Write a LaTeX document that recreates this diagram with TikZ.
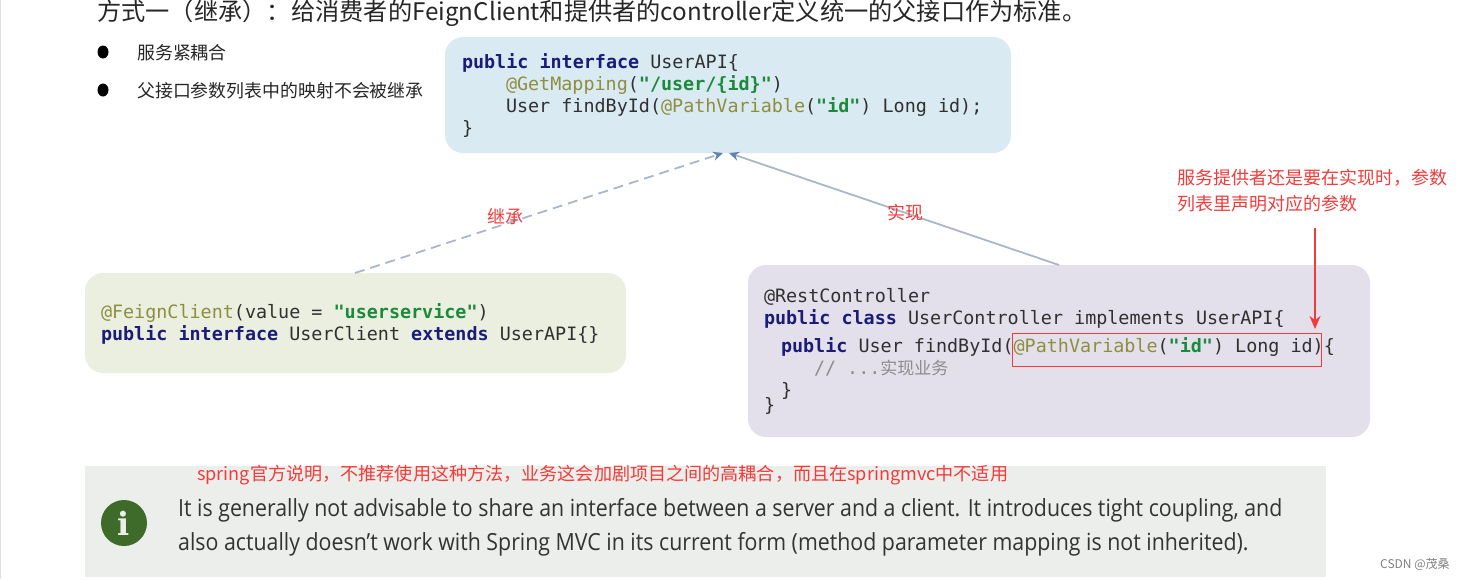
\documentclass[tikz,border=0pt]{standalone}
\usepackage{fontspec}
\setmainfont{Noto Sans CJK SC}
\setmonofont{DejaVu Sans Mono}
\newfontfamily\cjkf{Noto Sans CJK SC}
\newfontfamily\notef{Open Sans}
\newfontfamily\iconf{DejaVu Serif}
\usetikzlibrary{arrows.meta,shapes.geometric}
\definecolor{bluebox}{HTML}{D9EAF3}
\definecolor{greenbox}{HTML}{EAEFE0}
\definecolor{purplebox}{HTML}{E3E0EC}
\definecolor{notebox}{HTML}{EBEEEA}
\definecolor{iconc}{HTML}{3F6B2A}
\definecolor{redc}{HTML}{F23B3B}
\definecolor{kw}{HTML}{1C1C78}
\definecolor{ann}{HTML}{8E8E3E}
\definecolor{strc}{HTML}{1B8A3A}
\definecolor{codec}{HTML}{303030}
\definecolor{arrowc}{HTML}{A9B7C8}
\definecolor{tipc}{HTML}{5D83AE}
\newcommand{\K}[1]{\textcolor{kw}{\bfseries #1}}
\newcommand{\A}[1]{\textcolor{ann}{#1}}
\newcommand{\St}[1]{\textcolor{strc}{\bfseries #1}}
\tikzset{
  panel/.style={rounded corners=18pt,inner sep=0pt,outer sep=0pt,anchor=north west},
  code/.style={anchor=base west,inner sep=0pt,outer sep=0pt,text=codec,font=\ttfamily\fontsize{18.4}{20}\selectfont},
  redt/.style={anchor=base west,inner sep=0pt,text=redc,font=\cjkf\fontsize{18}{20}\selectfont},
  blackt/.style={anchor=base west,inner sep=0pt,text=black!85,font=\cjkf\fontsize{17.9}{20}\selectfont},
  notet/.style={anchor=base west,inner sep=0pt,text=black!80,font=\notef\fontsize{23.6}{26}\selectfont},
  link/.style={draw=arrowc,line width=1.8pt},
  tip/.style={-{Stealth[length=10pt,width=9pt,color=tipc]}},
  bulletdot/.style={ellipse,fill=black,minimum width=11pt,minimum height=13pt,inner sep=0pt},
}
\begin{document}
\begin{tikzpicture}[x=1pt,y=-1pt]
\useasboundingbox (0,0) rectangle (1463,579);
\draw[black!12,line width=1pt] (0.5,0) -- (0.5,579);
\node[panel,fill=bluebox,minimum width=566pt,minimum height=116pt] (api) at (445,37) {};
\node[panel,fill=greenbox,minimum width=541pt,minimum height=100pt] (client) at (85,273) {};
\node[panel,fill=purplebox,minimum width=622pt,minimum height=172pt] (ctrl) at (748,265) {};
\node[anchor=north west,fill=notebox,inner sep=0pt,outer sep=0pt,minimum width=1241pt,minimum height=111pt] (note) at (85,466) {};

\coordinate (dashstart) at (355,273);
\coordinate (dashend) at (723,153);
\coordinate (solidstart) at (1059,265);
\coordinate (solidend) at (729,153);
\coordinate (redstart) at (1315,228);
\coordinate (redend) at (1315,329);
\draw[link,dashed,dash pattern=on 10pt off 6pt,tip] (dashstart) -- (dashend);
\draw[link,tip] (solidstart) -- (solidend);
\draw[redc,line width=2.4pt,-{Stealth[length=13pt,width=11pt]}] (redstart) -- (redend);

\node[anchor=base west,inner sep=0pt,text=black!85,font=\cjkf\fontsize{24.2}{26}\selectfont] (title) at (97,20) {方式一（继承）：\kern-5pt\ 给消费者的FeignClient和提供者的controller定义统一的父接口作为标准。};
\node[bulletdot] (b1) at (103,52) {};
\node[bulletdot] (b2) at (103,90) {};
\node[blackt] (t1) at (137,59) {服务紧耦合};
\node[blackt] (t2) at (137,97) {父接口参数列表中的映射不会被继承};

\node[code] (a1) at (462,68) {\K{public interface} UserAPI\{};
\node[code] (a2) at (506,90) {\A{@GetMapping}(\St{"/user/\{id\}"})};
\node[code] (a3) at (506,112) {User findById(\A{@PathVariable}(\St{"id"}) Long id);};
\node[code] (a4) at (462,134) {\}};

\node[code] (c1) at (101,318) {\A{@FeignClient}(value = \St{"userservice"})};
\node[code] (c2) at (101,340) {\K{public interface} UserClient \K{extends} UserAPI\{\}};

\node[code] (d1) at (764,302) {@RestController};
\node[code] (d2) at (764,324) {\K{public class} UserController implements UserAPI\{};
\node[code] (d3) at (781,352) {\K{public} User findById(\A{@PathVariable}(\St{"id"}) Long id)\{};
\node[code] (d4) at (814,374) {\textcolor{black!45}{// ...{\cjkf\fontsize{17}{20}\selectfont 实现业务}}};
\node[code] (d5) at (781,396) {\}};
\node[code] (d6) at (764,411) {\}};
\node[draw=redc,line width=1pt,anchor=north west,inner sep=0pt,minimum width=309pt,minimum height=33pt] (hl) at (1012,333) {};

\node[redt] (l1) at (487,223) {继承};
\node[redt] (l2) at (887,219) {实现};
\node[redt] (r1) at (1177,184) {服务提供者还是要在实现时，参数};
\node[redt] (r2) at (1177,210) {列表里声明对应的参数};
\node[redt,font=\cjkf\fontsize{18.1}{20}\selectfont] (r3) at (197,480) {spring官方说明，不推荐使用这种方法，业务这会加剧项目之间的高耦合，而且在springmvc中不适用};

\node[circle,fill=iconc,minimum size=46pt,inner sep=0pt] (icon) at (124,523) {};
\node[anchor=center,inner sep=0pt,text=notebox,font=\iconf\bfseries\fontsize{32}{34}\selectfont] (iconi) at (124,523) {i};
\node[notet] (n1) at (178,516) {\scalebox{0.904}[1]{It is generally not advisable to share an interface between a server and a client. It introduces tight coupling, and}};
\node[notet] (n2) at (178,550) {\scalebox{0.904}[1]{also actually doesn’t work with Spring MVC in its current form (method parameter mapping is not inherited).}};
\node[anchor=base west,inner sep=0pt,text=black!50,font=\cjkf\fontsize{12}{14}\selectfont] (wm) at (1380,568) {CSDN @茂桑};
\end{tikzpicture}
\end{document}
